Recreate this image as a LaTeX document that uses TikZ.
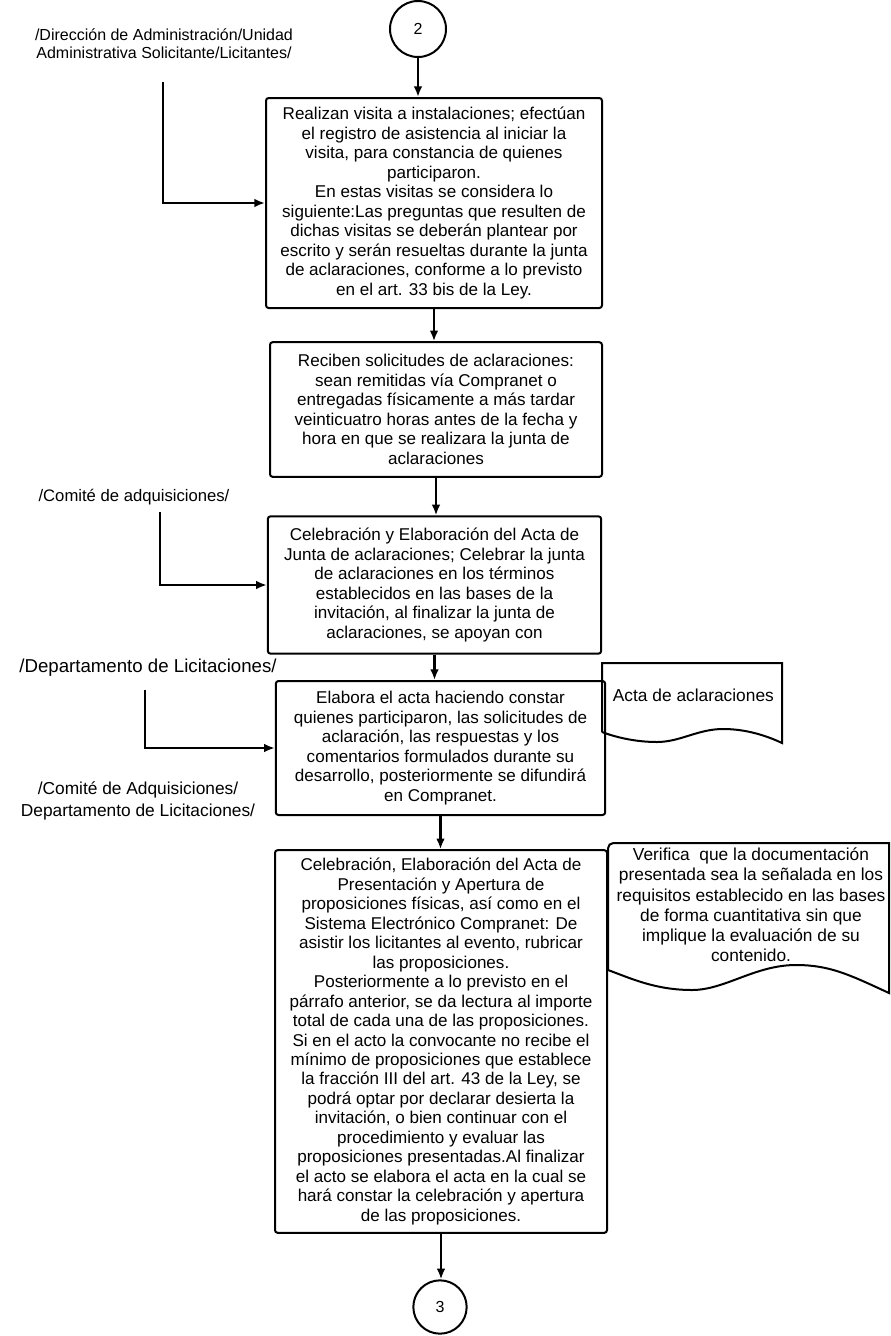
\documentclass[tikz,border=0pt]{standalone}
\usepackage{fontspec}
\setmainfont{Liberation Sans}
\usetikzlibrary{arrows.meta}

\begin{document}
\begin{tikzpicture}[
  >={Latex[length=8pt,width=6.5pt]},
  x=0.75pt,
  y=-0.75pt,
  every node/.style={align=center, inner sep=2pt},
  box/.style={
    draw,
    line width=1.5pt,
    rounded corners=2pt,
    font=\fontsize{12.8}{14.6}\selectfont
  },
  conn/.style={
    draw,
    circle,
    line width=1.5pt,
    minimum size=42pt,
    font=\fontsize{12}{14}\selectfont
  },
  role/.style={font=\fontsize{12}{13.5}\selectfont},
  doc/.style={draw, line width=1.5pt},
  doctext/.style={font=\fontsize{13}{15.2}\selectfont},
  arrow/.style={->, line width=1.6pt}
]
\useasboundingbox (0,0) rectangle (891,1336);

\node[conn] (c2) at (418,29) {2};
\node[box, minimum width=252pt, minimum height=157.5pt] (b1) at (434,203) {Realizan visita a instalaciones; efectúan\\el registro de asistencia al iniciar la\\visita, para constancia de quienes\\participaron.\\En estas visitas se considera lo\\siguiente:Las preguntas que resulten de\\dichas visitas se deberán plantear por\\escrito y serán resueltas durante la junta\\de aclaraciones, conforme a lo previsto\\en el art. 33 bis de la Ley.};
\node[box, minimum width=249pt, minimum height=101pt] (b2) at (436,409.5) {Reciben solicitudes de aclaraciones:\\sean remitidas vía Compranet o\\entregadas físicamente a más tardar\\veinticuatro horas antes de la fecha y\\hora en que se realizara la junta de\\aclaraciones};
\node[box, minimum width=250pt, minimum height=103pt] (b3) at (434.5,585) {Celebración y Elaboración del Acta de\\Junta de aclaraciones; Celebrar la junta\\de aclaraciones en los términos\\establecidos en las bases de la\\invitación, al finalizar la junta de\\aclaraciones, se apoyan con};
\node[box, minimum width=247pt, minimum height=100.5pt] (b4) at (440.5,748) {Elabora el acta haciendo constar\\quienes participaron, las solicitudes de\\aclaración, las respuestas y los\\comentarios formulados durante su\\desarrollo, posteriormente se difundirá\\en Compranet.};
\node[box, minimum width=249pt, minimum height=287pt] (b5) at (441,1041.5) {Celebración, Elaboración del Acta de\\Presentación y Apertura de\\proposiciones físicas, así como en el\\Sistema Electrónico Compranet: De\\asistir los licitantes al evento, rubricar\\las proposiciones.\\Posteriormente a lo previsto en el\\párrafo anterior, se da lectura al importe\\total de cada una de las proposiciones.\\Si en el acto la convocante no recibe el\\mínimo de proposiciones que establece\\la fracción III del art. 43 de la Ley, se\\podrá optar por declarar desierta la\\invitación, o bien continuar con el\\procedimiento y evaluar las\\proposiciones presentadas.Al finalizar\\el acto se elabora el acta en la cual se\\hará constar la celebración y apertura\\de las proposiciones.};
\node[conn, minimum size=40pt] (c3) at (440,1307) {3};

\node[role] (dirad) at (164,44) {/Dirección de Administración/Unidad\\Administrativa Solicitante/Licitantes/};
\node[role, font=\fontsize{12.5}{14}\selectfont] (comite) at (134,497) {/Comité de adquisiciones/};
\node[role, font=\fontsize{14}{16}\selectfont] (deplic) at (148,668) {/Departamento de Licitaciones/};
\node[role, font=\fontsize{13}{16.5}\selectfont] (comdep) at (138,801) {/Comité de Adquisiciones/\\Departamento de Licitaciones/};

\draw[doc] (602,732) -- (602,663) -- (782,663) -- (782,743)
  .. controls (765,735) and (745,729) .. (723,729)
  .. controls (698,729) and (680,742) .. (657,742)
  .. controls (635,742) and (615,737) .. (602,732);
\node[doctext, anchor=west] (acta) at (610,695) {Acta de aclaraciones};

\draw[doc] (608,970) {[rounded corners=4pt] -- (608,843) -- (700,843)} -- (889,843) -- (889,993)
  .. controls (850,975) and (830,965) .. (796,965)
  .. controls (755,965) and (725,990) .. (692,990)
  .. controls (655,990) and (630,978) .. (608,970);
\node[doctext] (verif) at (751,905) {Verifica\ \ que la documentación\\presentada sea la señalada en los\\requisitos establecido en las bases\\de forma cuantitativa sin que\\implique la evaluación de su\\contenido.};

\coordinate (dirad end) at (163,82);
\coordinate (comite end) at (160,512);
\coordinate (deplic end) at (145,690);

\draw[arrow] (c2) -- (c2 |- b1.north);
\draw[arrow] (b1.south) -- (b1.south |- b2.north);
\draw[arrow] (b2.south) -- (b2.south |- b3.north);
\draw[arrow] (b3.south) -- (b3.south |- b4.north);
\draw[arrow] (b4.south) -- (b4.south |- b5.north);
\draw[arrow] (b5.south) -- (b5.south |- c3.north);

\draw[arrow] (dirad end) |- (b1.west);
\draw[arrow] (comite end) |- (b3.west);
\draw[arrow] (deplic end) |- (b4.west);

\end{tikzpicture}
\end{document}
